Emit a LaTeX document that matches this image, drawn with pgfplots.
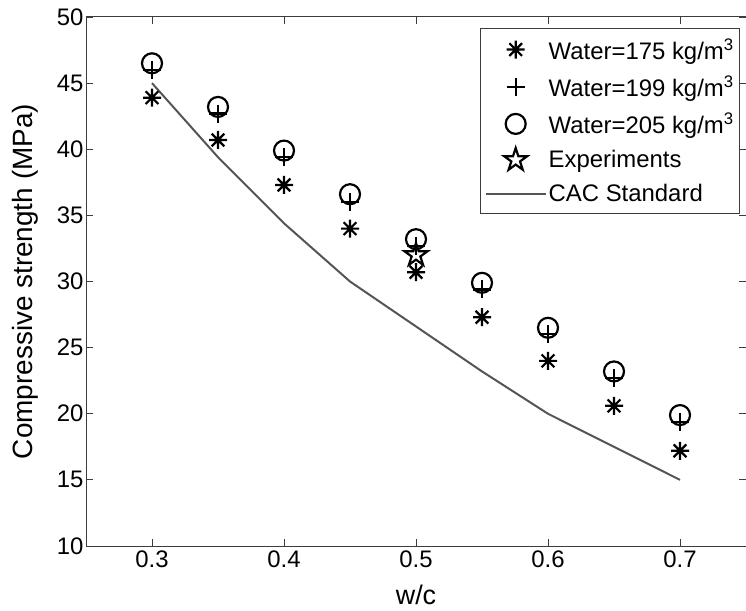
\documentclass[border=0pt]{standalone}
\usepackage{fontspec}
\setmainfont{Liberation Sans}
\usepackage{pgfplots}
\pgfplotsset{compat=1.18}

% MATLAB-like marks
\pgfdeclareplotmark{mstar}{%
  \pgfpathmoveto{\pgfpoint{-\pgfplotmarksize}{0pt}}\pgfpathlineto{\pgfpoint{\pgfplotmarksize}{0pt}}%
  \pgfpathmoveto{\pgfpoint{0pt}{-\pgfplotmarksize}}\pgfpathlineto{\pgfpoint{0pt}{\pgfplotmarksize}}%
  \pgfpathmoveto{\pgfpoint{-0.707\pgfplotmarksize}{-0.707\pgfplotmarksize}}\pgfpathlineto{\pgfpoint{0.707\pgfplotmarksize}{0.707\pgfplotmarksize}}%
  \pgfpathmoveto{\pgfpoint{-0.707\pgfplotmarksize}{0.707\pgfplotmarksize}}\pgfpathlineto{\pgfpoint{0.707\pgfplotmarksize}{-0.707\pgfplotmarksize}}%
  \pgfusepathqstroke}
\pgfdeclareplotmark{pentagram}{%
  \pgfpathmoveto{\pgfpointpolar{90}{\pgfplotmarksize}}%
  \pgfpathlineto{\pgfpointpolar{126}{0.382\pgfplotmarksize}}%
  \pgfpathlineto{\pgfpointpolar{162}{\pgfplotmarksize}}%
  \pgfpathlineto{\pgfpointpolar{198}{0.382\pgfplotmarksize}}%
  \pgfpathlineto{\pgfpointpolar{234}{\pgfplotmarksize}}%
  \pgfpathlineto{\pgfpointpolar{270}{0.382\pgfplotmarksize}}%
  \pgfpathlineto{\pgfpointpolar{306}{\pgfplotmarksize}}%
  \pgfpathlineto{\pgfpointpolar{342}{0.382\pgfplotmarksize}}%
  \pgfpathlineto{\pgfpointpolar{18}{\pgfplotmarksize}}%
  \pgfpathlineto{\pgfpointpolar{54}{0.382\pgfplotmarksize}}%
  \pgfpathclose\pgfusepathqstroke}

\definecolor{cacgray}{RGB}{85,85,85}
\definecolor{axgray}{RGB}{60,60,60}

\begin{document}
\begin{tikzpicture}
\begin{axis}[scale only axis,width=660bp,height=529bp,
xmin=0.25,xmax=0.75,ymin=10,ymax=50,
xtick={0.3,0.4,0.5,0.6,0.7},ytick={10,15,...,50},
xticklabels={0.3,0.4,0.5,0.6,0.7},
tick align=inside,major tick length=7bp,
axis line style={axgray,line width=1pt},every tick/.style={axgray,line width=0.8pt},
/pgf/number format/assume math mode=true,
tick label style={font=\fontsize{24}{24}\selectfont},
xticklabel style={yshift=-1bp},
yticklabel style={xshift=1bp},
xlabel={w/c},ylabel={Compressive strength (MPa)},
every axis x label/.style={at={(axis description cs:0.5,-0.0926)},anchor=center,font=\fontsize{27}{27}\selectfont},
every axis y label/.style={at={(axis description cs:-0.0924,0.5)},rotate=90,anchor=center,font=\fontsize{28}{28}\selectfont},
legend style={at={(0.991,0.979)},anchor=north east,draw=axgray,line width=0.8pt,
  font=\fontsize{24}{24}\selectfont,row sep=11bp,inner sep=4bp,inner ysep=8bp,
  cells={anchor=west}},
legend image code/.code={\draw[mark repeat=2,mark phase=2,#1] plot coordinates {(0bp,0bp) (30bp,0bp) (60bp,0bp)};},
]
\addplot[only marks,mark=mstar,mark size=9bp,line width=2.2pt,black] coordinates {
(0.3,43.9)(0.35,40.7)(0.4,37.3)(0.45,34.0)(0.5,30.7)(0.55,27.3)(0.6,24.0)(0.65,20.6)(0.7,17.2)};
\addlegendentry{Water=175 kg/m\textsuperscript{3}}
\addplot[only marks,mark=+,mark size=9bp,line width=2.2pt,black] coordinates {
(0.3,46.0)(0.35,42.7)(0.4,39.4)(0.45,36.0)(0.5,32.7)(0.55,29.4)(0.6,26.0)(0.65,22.7)(0.7,19.4)};
\addlegendentry{Water=199 kg/m\textsuperscript{3}}
\addplot[only marks,mark=o,mark size=10bp,line width=2.2pt,black] coordinates {
(0.3,46.5)(0.35,43.2)(0.4,39.9)(0.45,36.6)(0.5,33.2)(0.55,29.9)(0.6,26.5)(0.65,23.2)(0.7,19.9)};
\addlegendentry{Water=205 kg/m\textsuperscript{3}}
\addplot[only marks,mark=pentagram,mark size=12bp,line width=2.2pt,black] coordinates {(0.5,32.0)};
\addlegendentry{Experiments}
\addplot[cacgray,line width=2pt,mark=none] coordinates {
(0.3,45.0)(0.35,39.4)(0.4,34.4)(0.45,30.0)(0.5,26.6)(0.55,23.2)(0.6,20.0)(0.65,17.5)(0.7,15.0)};
\addlegendentry{CAC Standard}
\end{axis}
\path (current axis.south west) ++(-86bp,-64bp) coordinate (bbA);
\path (current axis.north east) ++(0bp,17bp) coordinate (bbB);
\pgfresetboundingbox
\path[use as bounding box] (bbA) rectangle (bbB);
\end{tikzpicture}
\end{document}
